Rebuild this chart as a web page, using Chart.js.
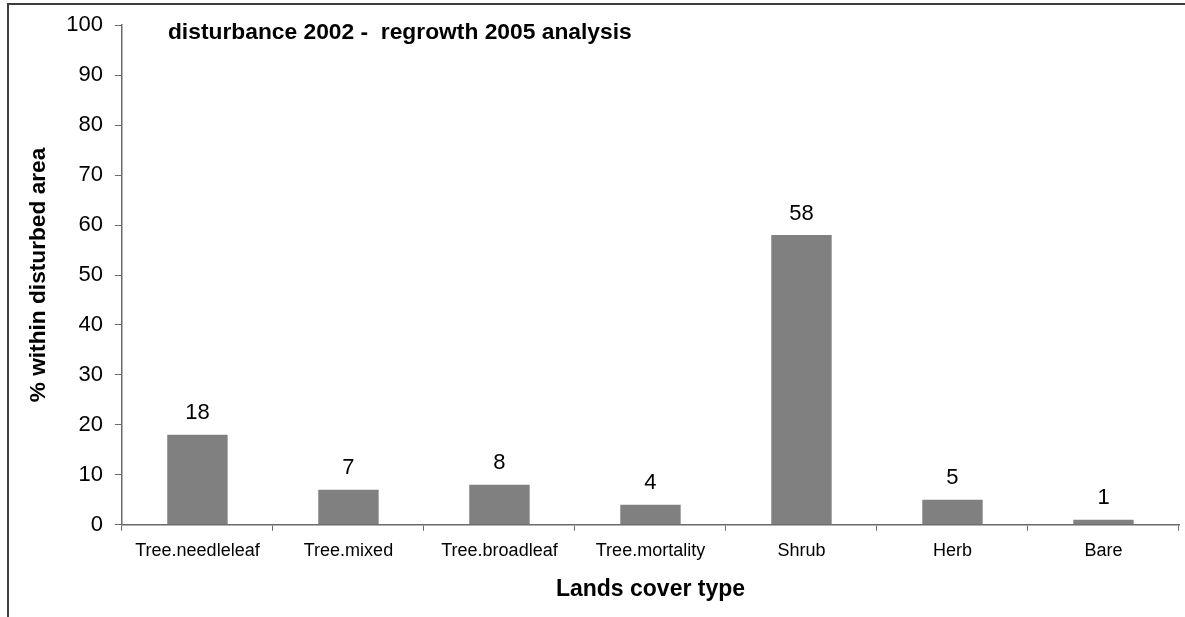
<!DOCTYPE html>
<html>
<head>
<meta charset="utf-8">
<script src="https://cdn.jsdelivr.net/npm/chart.js@4"></script>
<style>
  html, body { margin: 0; padding: 0; background: #ffffff; }
  #wrap { position: relative; width: 1185px; height: 617px; }
  canvas { display: block; }
</style>
</head>
<body>
<div id="wrap"><canvas id="chart" width="1185" height="617"></canvas></div>
<script>
// Land cover share within the disturbed area
const categories = ['Tree.needleleaf', 'Tree.mixed', 'Tree.broadleaf', 'Tree.mortality', 'Shrub', 'Herb', 'Bare'];
const percentValues = [18, 7, 8, 4, 58, 5, 1];
const yTicks = [0, 10, 20, 30, 40, 50, 60, 70, 80, 90, 100];

const chartTitle = 'disturbance 2002 -  regrowth 2005 analysis';
const xTitle = 'Lands cover type';
const yTitle = '% within disturbed area';

const FONT = '"Liberation Sans", Arial, sans-serif';
const AXIS_COLOR = '#6a6a6a';

// Outer frame of the chart object (top and left edges)
const framePlugin = {
  id: 'frame',
  beforeDraw(chart) {
    const ctx = chart.ctx;
    ctx.save();
    ctx.fillStyle = '#ffffff';
    ctx.fillRect(0, 0, chart.width, chart.height);
    ctx.strokeStyle = '#3d3d3d';
    ctx.lineWidth = 2;
    ctx.beginPath();
    ctx.moveTo(8, chart.height);
    ctx.lineTo(8, 4);
    ctx.lineTo(chart.width, 4);
    ctx.stroke();
    ctx.restore();
  }
};

// Title inside the plot area, left aligned
const innerTitlePlugin = {
  id: 'innerTitle',
  afterDraw(chart) {
    const ctx = chart.ctx;
    const area = chart.chartArea;
    ctx.save();
    ctx.font = 'bold 22.8px ' + FONT;
    ctx.fillStyle = '#000000';
    ctx.textAlign = 'left';
    ctx.textBaseline = 'middle';
    ctx.fillText(chartTitle, area.left + 46, area.top + 8);
    ctx.restore();
  }
};

// Value labels above each bar
const valueLabelPlugin = {
  id: 'valueLabels',
  afterDatasetsDraw(chart) {
    const ctx = chart.ctx;
    const meta = chart.getDatasetMeta(0);
    const data = chart.data.datasets[0].data;
    ctx.save();
    ctx.font = '22px ' + FONT;
    ctx.fillStyle = '#000000';
    ctx.textAlign = 'center';
    ctx.textBaseline = 'middle';
    meta.data.forEach((bar, i) => {
      ctx.fillText(String(data[i]), bar.x, bar.y - 21.5);
    });
    ctx.restore();
  }
};

new Chart(document.getElementById('chart'), {
  type: 'bar',
  data: {
    labels: categories,
    datasets: [{
      data: percentValues,
      backgroundColor: '#808080',
      borderWidth: 0,
      barPercentage: 0.4,
      categoryPercentage: 1.0
    }]
  },
  options: {
    responsive: false,
    animation: false,
    devicePixelRatio: 1,
    layout: { padding: { left: 25, right: 6, top: 18.8, bottom: 14 } },
    plugins: {
      legend: { display: false },
      title: { display: false },
      tooltip: { enabled: false }
    },
    scales: {
      x: {
        grid: { offset: true, drawOnChartArea: false, drawTicks: true, tickLength: 6, color: AXIS_COLOR, tickColor: AXIS_COLOR },
        border: { display: true, color: AXIS_COLOR, width: 1.5 },
        ticks: { color: '#000000', font: { family: FONT, size: 18 }, padding: 9, maxRotation: 0, autoSkip: false },
        title: { display: true, text: xTitle, color: '#000000', font: { family: FONT, size: 23, weight: 'bold' }, padding: { top: 5, bottom: 0 } }
      },
      y: {
        min: 0,
        max: 100,
        afterBuildTicks(scale) { scale.ticks = yTicks.map(v => ({ value: v })); },
        grid: { drawOnChartArea: false, drawTicks: true, tickLength: 7, color: AXIS_COLOR, tickColor: AXIS_COLOR },
        border: { display: true, color: AXIS_COLOR, width: 1.5 },
        ticks: { color: '#000000', font: { family: FONT, size: 22 }, padding: 12 },
        title: { display: true, text: yTitle, color: '#000000', font: { family: FONT, size: 22.7, weight: 'bold' }, padding: { top: 0, bottom: 2 } }
      }
    }
  },
  plugins: [framePlugin, innerTitlePlugin, valueLabelPlugin]
});
</script>
</body>
</html>
